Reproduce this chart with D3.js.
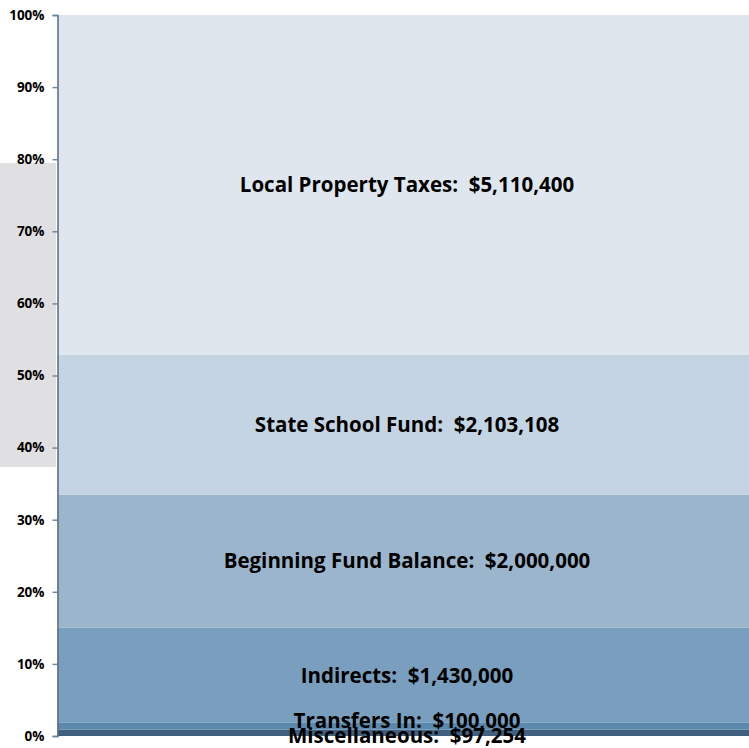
<!DOCTYPE html>
<html><head><meta charset="utf-8">
<script src="https://cdn.jsdelivr.net/npm/d3@7"></script>
<style>body{margin:0;background:#fff}svg{display:block}text.lbl{white-space:pre}</style>
</head><body>
<svg id="c" width="749" height="748"></svg>
<script>
const categories = ["Miscellaneous", "Transfers In", "Indirects", "Beginning Fund Balance", "State School Fund", "Local Property Taxes"];
const values = [97254, 100000, 1430000, 2000000, 2103108, 5110400];
const colors = ["#40607f", "#5b88ad", "#7a9ebd", "#9ab5cc", "#c4d4e3", "#dfe6ee"];
const tickValues = [0, 0.1, 0.2, 0.3, 0.4, 0.5, 0.6, 0.7, 0.8, 0.9, 1.0];

(function () {
const svg = d3.select("#c");
const mLeft = 57.5, mRight = 749, mTop = 15, mBottom = 736;
const total = d3.sum(values);
const y = d3.scaleLinear().domain([0, 1]).range([mBottom, mTop]);

// grey background artifact on left
svg.append("rect").attr("x", 0).attr("y", 163).attr("width", 56).attr("height", 304).attr("fill", "#e0e0e2");

let cum = 0;
const segs = values.map((v, i) => { const s = {name: categories[i], v, y0: cum / total, y1: (cum + v) / total, color: colors[i]}; cum += v; return s; });

svg.selectAll("rect.seg").data(segs).enter().append("rect")
  .attr("class", "seg")
  .attr("x", mLeft).attr("width", mRight - mLeft)
  .attr("y", d => y(d.y1)).attr("height", d => y(d.y0) - y(d.y1))
  .attr("fill", d => d.color);

const fmt = d3.format(",");
svg.selectAll("text.lbl").data(segs).enter().append("text")
  .attr("class", "lbl")
  .attr("x", 407)
  .attr("y", d => (y(d.y0) + y(d.y1)) / 2)
  .attr("dy", d => (d.y1 - d.y0) < 0.012 ? (d.name === "Transfers In" ? "0.1em" : "0.52em") : "0.35em")
  .attr("text-anchor", "middle")
  .attr("font-family", "'Open Sans', Lato, sans-serif")
  .attr("font-weight", "bold")
  .attr("font-size", 20.5)
  .attr("fill", "#000")
  .text(d => d.name + ":  $" + fmt(d.v));

const axis = d3.axisLeft(y).tickValues(tickValues).tickFormat(d3.format(".0%")).tickSize(5).tickPadding(8);
const g = svg.append("g").attr("transform", `translate(${mLeft},0)`).call(axis);
g.select(".domain").attr("stroke", "#4f6d8c").attr("stroke-width", 1.5);
g.selectAll(".tick line").attr("stroke", "#6f88a3").attr("stroke-width", 1.5);
g.selectAll(".tick text").attr("font-family", "'Open Sans', Lato, sans-serif").attr("font-weight", "bold").attr("font-size", 13.5).attr("fill", "#000");
})();
</script>
</body></html>
